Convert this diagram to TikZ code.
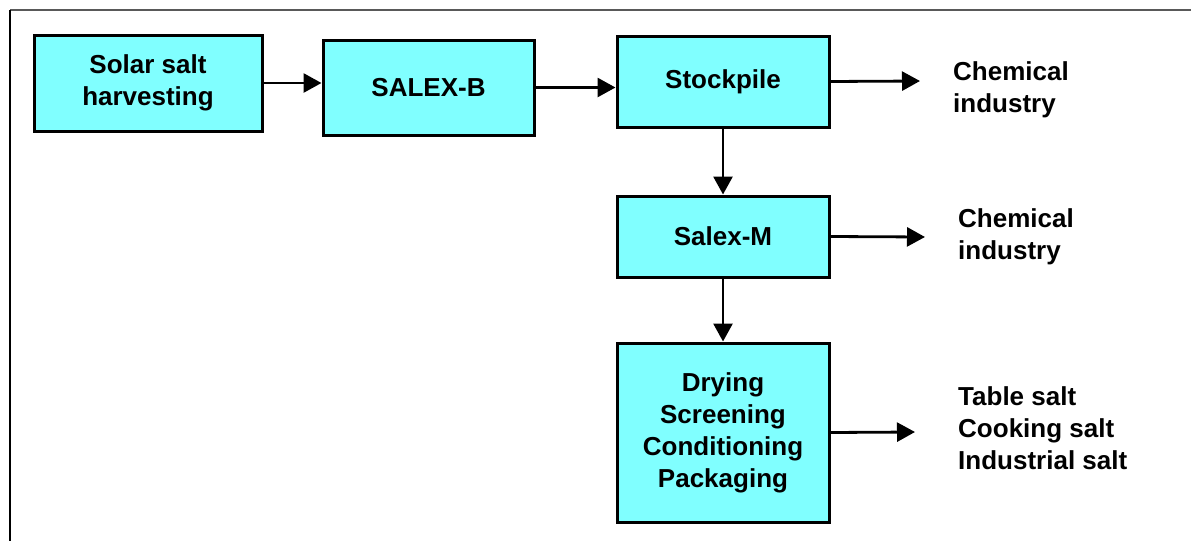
\documentclass[tikz,border=0pt]{standalone}
\usepackage{xcolor}
\usepackage{fontspec}
\setmainfont{Liberation Sans}
\usepackage{tikz}
\usetikzlibrary{arrows.meta,positioning}

\definecolor{boxcyan}{HTML}{80FFFF}

\tikzset{
    stage/.style={draw=black, line width=3pt, fill=boxcyan, align=center,
        inner sep=0pt, font=\fontsize{26}{32}\selectfont\bfseries},
    outlabel/.style={anchor=west, align=left, inner sep=0pt,
        font=\fontsize{26}{32}\selectfont\bfseries},
    flow/.style={line width=2.8pt, -{Triangle[length=18pt,width=19pt]}}
}

\begin{document}
\begin{tikzpicture}[x=1pt,y=-1pt]
        \useasboundingbox (0,0) rectangle (1191,541);
        \draw[line width=2pt, color=black!65] (10,10) -- (1191,10);
        \draw[line width=2pt] (10,10) -- (10,541);

        \node[stage, minimum width=228pt, minimum height=96pt] (harvest) at (148,83) {Solar salt\\harvesting};
        \node[stage, minimum width=211pt, minimum height=95pt] (salexb) at (428.5,87.5) {SALEX-B};
        \node[stage, minimum width=212pt, minimum height=91pt] (stockpile) at (723,81.5) {Stockpile};
        \node[stage, minimum width=212pt, minimum height=81pt] (salexm) at (723,236.5) {Salex-M};
        \node[stage, minimum width=212pt, minimum height=179pt] (finish) at (723,432.5) {Drying\\Screening\\Conditioning\\Packaging};

        \node[outlabel] (chemA) at (953,90) {Chemical\\industry};
        \node[outlabel] (chemB) at (958,237) {Chemical\\industry};
        \node[outlabel] (products) at (958,428) {Table salt\\Cooking salt\\Industrial salt};

        \coordinate (outA) at (920,81);
        \coordinate (outB) at (925,237);
        \coordinate (outC) at (915,432);

        \draw[flow] (harvest.east) -- (harvest.east -| salexb.west);
        \draw[flow] (salexb.east) -- (salexb.east -| stockpile.west);
        \draw[flow] (stockpile.east) -- (outA);
        \draw[flow] (stockpile.south) -- (salexm.north);
        \draw[flow] (salexm.east) -- (outB);
        \draw[flow] (salexm.south) -- (finish.north);
        \draw[flow] (finish.east) -- (outC);
\end{tikzpicture}
\end{document}
